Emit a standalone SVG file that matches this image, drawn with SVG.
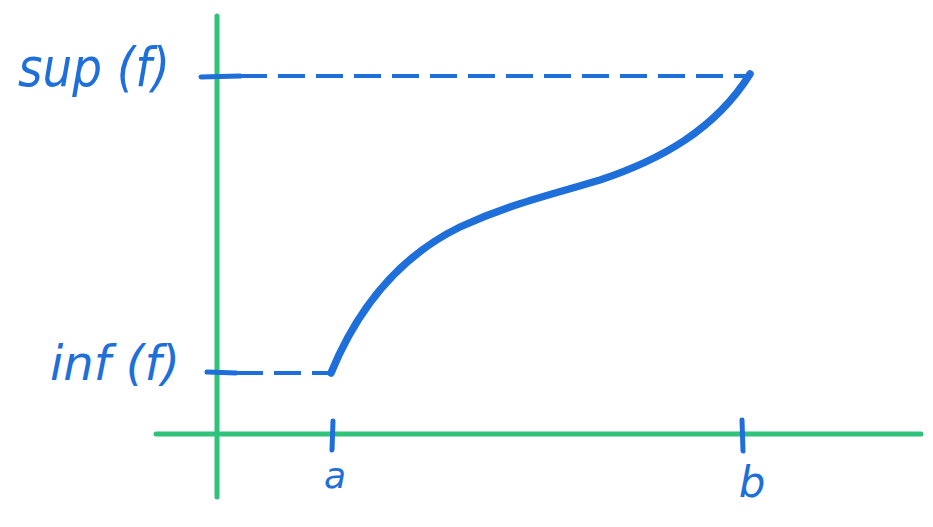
<svg xmlns="http://www.w3.org/2000/svg" width="933" height="527" viewBox="0 0 933 527">
<style>
.axis{stroke:#2EC27A;stroke-width:5;stroke-linecap:round;fill:none}
.ink{stroke:#1E6FD9;fill:none;stroke-linecap:round;stroke-linejoin:round}
.dash{stroke-width:4;stroke-dasharray:27 11;stroke-linecap:butt}
.lbl{fill:#1E6FD9;font-family:"DejaVu Sans","Noto Sans",sans-serif;font-style:italic}
</style>
<rect width="933" height="527" fill="#fff"/>
<g id="axes">
<line class="axis" x1="217" y1="16" x2="217" y2="497"/>
<line class="axis" x1="156" y1="434" x2="921" y2="434"/>
</g>
<g id="connectors">
<line class="ink dash" x1="240" y1="76" x2="746" y2="76"/>
<line class="ink dash" x1="236" y1="373" x2="328" y2="373"/>
</g>
<g id="ticks">
<line class="ink" stroke-width="5" x1="201" y1="77" x2="240" y2="76"/>
<line class="ink" stroke-width="5" x1="207" y1="372" x2="236" y2="373"/>
<line class="ink" stroke-width="5" x1="333" y1="421" x2="332" y2="450"/>
<line class="ink" stroke-width="5" x1="742" y1="420" x2="743" y2="451"/>
</g>
<g id="curve">
<path class="ink" stroke-width="7.5" d="M331,373 C352,322 388,262 460,227 C510,204 550,195 600,180 C660,160 715,130 750,74"/>
</g>
<g id="label-sup">
<text class="lbl" x="18" y="86" font-size="54" textLength="152" lengthAdjust="spacingAndGlyphs">sup (f)</text>
</g>
<g id="label-inf">
<text class="lbl" x="50" y="380" font-size="48" textLength="130" lengthAdjust="spacingAndGlyphs">inf (f)</text>
</g>
<g id="label-a">
<text class="lbl" x="335" y="488" font-size="36" text-anchor="middle">a</text>
</g>
<g id="label-b">
<text class="lbl" x="752" y="497" font-size="42" text-anchor="middle">b</text>
</g>
</svg>
